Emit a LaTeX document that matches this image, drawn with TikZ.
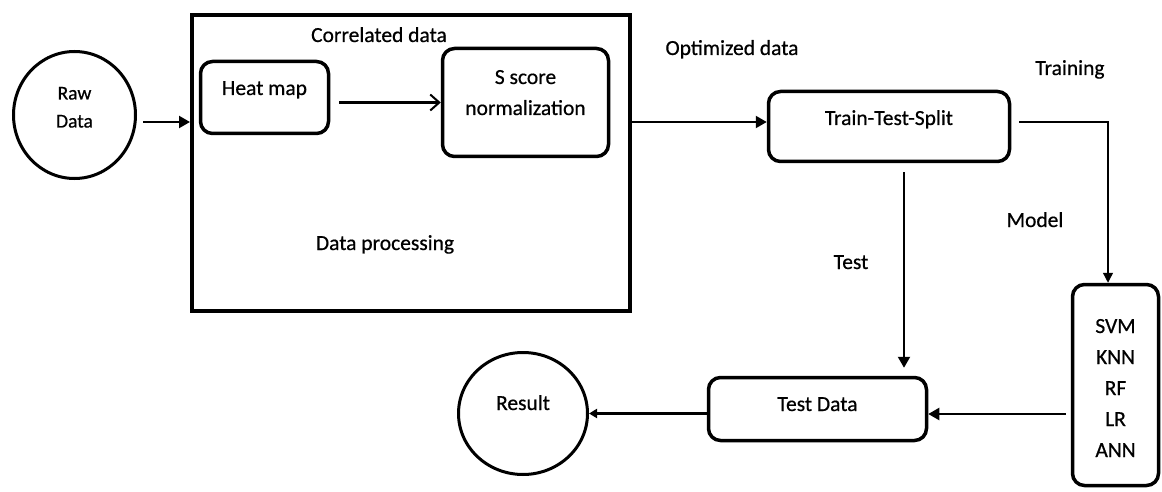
\documentclass[tikz,border=0pt]{standalone}
\usepackage{fontspec}
\setmainfont{Carlito}[FakeBold=0.6]
\usetikzlibrary{arrows.meta,shapes.geometric}
\newcommand{\lift}[2]{\raisebox{#1}[0pt][0pt]{#2}}
\begin{document}
\begin{tikzpicture}[x=1pt,y=-1pt,
  every node/.style={font=\fontsize{21.5}{31}\selectfont},
  rbox/.style={draw, line width=3.5pt, rounded corners=12pt, inner sep=0pt},
  circ/.style={draw, ellipse, line width=3pt, inner sep=0pt},
  bigbox/.style={draw, line width=4pt, inner sep=0pt},
  lbl/.style={anchor=base, inner sep=0pt},
  arr/.style={line width=2.2pt, -{Triangle[length=11pt,width=12pt]}},
  smallarr/.style={line width=2.2pt, -{Triangle[length=8pt,width=9pt]}},
  thinarr/.style={line width=1.3pt, -{Triangle[length=10pt,width=10pt]}},
  openarr/.style={line width=2.2pt, -{Straight Barb[length=9pt,width=16pt,line width=2pt]}}
]
\useasboundingbox (0,0) rectangle (1162,492);

% shapes
\node[circ, minimum width=122pt, minimum height=127pt] (raw) at (74.5,115)
  {\fontsize{19.5}{28}\selectfont\lift{-12.5pt}{\begin{tabular}[b]{@{}c@{}}Raw\\Data\end{tabular}}};
\node[bigbox, minimum width=438pt, minimum height=296pt] (proc) at (411,163) {};
\node[rbox, minimum width=128pt, minimum height=72pt] (heat) at (264.5,97.5) {\lift{2.5pt}{Heat map}};
\node[rbox, minimum width=166pt, minimum height=108pt] (sscore) at (525.5,102.5)
  {\lift{-12.5pt}{\begin{tabular}[b]{@{}c@{}}S score\\normalization\end{tabular}}};
\node[rbox, minimum width=241pt, minimum height=70pt] (tts) at (889,126.5) {\lift{1.5pt}{Train-Test-Split}};
\node[rbox, minimum width=86pt, minimum height=201pt] (models) at (1115.5,385)
  {\lift{-72pt}{\begin{tabular}[b]{@{}c@{}}SVM\\KNN\\RF\\LR\\ANN\end{tabular}}};
\node[rbox, minimum width=218pt, minimum height=63pt] (testdata) at (817.5,409) {\lift{-2pt}{Test Data}};
\node[circ, minimum width=129pt, minimum height=122pt] (result) at (523,413.5) {\lift{3.5pt}{Result}};

% free labels
\node[lbl] (corr) at (379,42) {Correlated data};
\node[lbl] (dproc) at (385,250) {Data processing};
\node[lbl] (opt) at (732,55) {Optimized data};
\node[lbl] (train) at (1070,75) {Training};
\node[lbl] (model) at (1035,227) {Model};
\node[lbl] (test) at (851,269) {Test};

% connectors
\draw[arr, shorten <=6pt] (raw.east |- 0,122) -- (proc.west |- 0,122);
\draw[openarr, shorten <=9pt] (heat.east |- sscore.west) -- (sscore.west);
\draw[arr] (proc.east |- 0,122) -- (tts.west |- 0,122);
\draw[thinarr, shorten <=8pt] (tts.east |- 0,122) -| ([xshift=-7.5pt]models.north);
\draw[arr, shorten <=9pt, shorten >=8pt] (tts.south -| 904,0) -- (testdata.north -| 904,0);
\draw[arr, shorten <=5pt] (models.west |- 0,414) -- (testdata.east |- 0,414);
\draw[smallarr] (testdata.west |- result.east) -- (result.east);
\end{tikzpicture}
\end{document}
